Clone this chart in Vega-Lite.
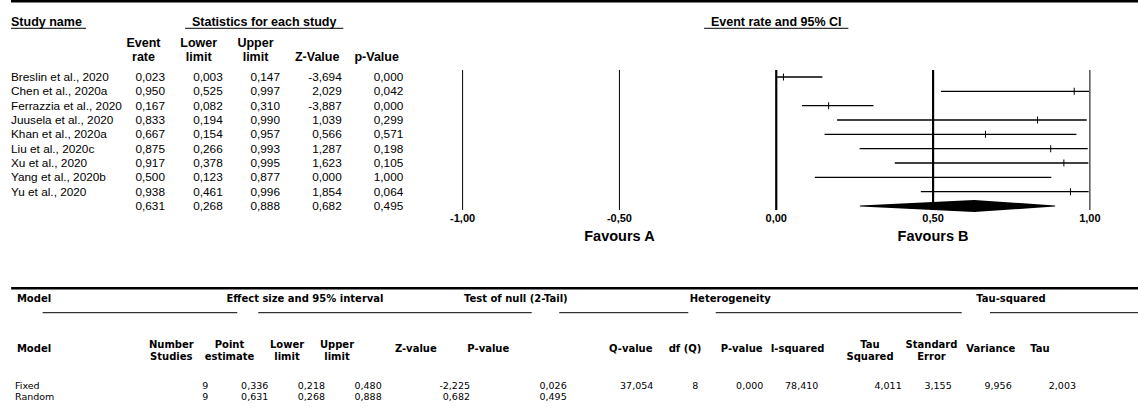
{
  "$schema": "https://vega.github.io/schema/vega-lite/v6.json",
  "width": 1138,
  "height": 409,
  "autosize": {"type": "none"},
  "padding": 0,
  "background": "white",
  "config": {
    "view": {"stroke": null},
    "locale": {"number": {"decimal": ",", "thousands": ".", "grouping": [3], "currency": ["", ""], "minus": "-"}},
    "text": {"color": "black"},
    "rule": {"color": "black"}
  },
  "datasets": {
    "studies": [
      {"study": "Breslin et al., 2020", "rate": 0.023, "lower": 0.003, "upper": 0.147, "z": -3.694, "p": 0.000},
      {"study": "Chen  et al., 2020a", "rate": 0.950, "lower": 0.525, "upper": 0.997, "z": 2.029, "p": 0.042},
      {"study": "Ferrazzia et al., 2020", "rate": 0.167, "lower": 0.082, "upper": 0.310, "z": -3.887, "p": 0.000},
      {"study": "Juusela et al., 2020", "rate": 0.833, "lower": 0.194, "upper": 0.990, "z": 1.039, "p": 0.299},
      {"study": "Khan et al., 2020a", "rate": 0.667, "lower": 0.154, "upper": 0.957, "z": 0.566, "p": 0.571},
      {"study": "Liu et al., 2020c", "rate": 0.875, "lower": 0.266, "upper": 0.993, "z": 1.287, "p": 0.198},
      {"study": "Xu et al., 2020", "rate": 0.917, "lower": 0.378, "upper": 0.995, "z": 1.623, "p": 0.105},
      {"study": "Yang et al., 2020b", "rate": 0.500, "lower": 0.123, "upper": 0.877, "z": 0.000, "p": 1.000},
      {"study": "Yu et al., 2020", "rate": 0.938, "lower": 0.461, "upper": 0.996, "z": 1.854, "p": 0.064},
      {"study": "", "rate": 0.631, "lower": 0.268, "upper": 0.888, "z": 0.682, "p": 0.495}
    ],
    "models": [
      {"model": "Fixed", "n": 9, "est": 0.336, "lower": 0.218, "upper": 0.480, "z": -2.225, "p": 0.026, "q": 37.054, "df": 8, "pq": 0.000, "i2": 78.410, "tau2": 4.011, "se": 3.155, "var": 9.956, "tau": 2.003},
      {"model": "Random", "n": 9, "est": 0.631, "lower": 0.268, "upper": 0.888, "z": 0.682, "p": 0.495, "q": null, "df": null, "pq": null, "i2": null, "tau2": null, "se": null, "var": null, "tau": null}
    ],
    "topHeads": [
      {"h": ["Event", "rate"]},
      {"h": ["Lower", "limit"]},
      {"h": ["Upper", "limit"]},
      {"h": ["", "Z-Value"]},
      {"h": ["", "p-Value"]}
    ],
    "groups": [
      {"g": "Model"},
      {"g": "Effect size and 95% interval"},
      {"g": "Test of null (2-Tail)"},
      {"g": "Heterogeneity"},
      {"g": "Tau-squared"}
    ],
    "bottomHeads": [
      {"h": ["Model"]},
      {"h": ["Number", "Studies"]},
      {"h": ["Point", "estimate"]},
      {"h": ["Lower", "limit"]},
      {"h": ["Upper", "limit"]},
      {"h": ["Z-value"]},
      {"h": ["P-value"]},
      {"h": ["Q-value"]},
      {"h": ["df (Q)"]},
      {"h": ["P-value"]},
      {"h": ["I-squared"]},
      {"h": ["Tau", "Squared"]},
      {"h": ["Standard", "Error"]},
      {"h": ["Variance"]},
      {"h": ["Tau"]}
    ],
    "ticks": [{"v": -1}, {"v": -0.5}, {"v": 0}, {"v": 0.5}, {"v": 1}]
  },
  "resolve": {"scale": {"x": "independent", "y": "independent", "size": "independent"}},
  "layer": [
    {
      "data": {"values": [{}]},
      "mark": {"type": "rule", "strokeWidth": 2.5},
      "encoding": {
        "x": {"datum": 0, "type": "quantitative", "axis": null, "scale": {"domain": [0, 1, 2, 3, 4, 5], "range": [11, 165, 222.7, 280, 341.7, 403.3], "zero": false, "nice": false}},
        "x2": {"datum": 17},
        "y": {"datum": -4.288, "type": "quantitative", "axis": null, "scale": {"domain": [1, 10], "range": [77, 206], "zero": false, "nice": false}}
      }
    },
    {
      "data": {"values": [{"t": "Study name"}]},
      "mark": {"type": "text", "align": "left", "baseline": "middle", "font": "Liberation Sans", "fontSize": 12.5, "fontWeight": "bold"},
      "encoding": {
        "text": {"field": "t", "type": "nominal"},
        "x": {"datum": 0, "type": "quantitative", "axis": null, "scale": {"domain": [0, 1, 2, 3, 4, 5], "range": [11, 165, 222.7, 280, 341.7, 403.3], "zero": false, "nice": false}},
        "y": {"datum": -2.858, "type": "quantitative", "axis": null, "scale": {"domain": [1, 10], "range": [77, 206], "zero": false, "nice": false}}
      }
    },
    {
      "data": {"values": [{}]},
      "mark": {"type": "rule", "strokeWidth": 1},
      "encoding": {
        "x": {"datum": 0, "type": "quantitative", "axis": null, "scale": {"domain": [0, 1, 2, 3, 4, 5], "range": [11, 165, 222.7, 280, 341.7, 403.3], "zero": false, "nice": false}},
        "x2": {"datum": 0.487},
        "y": {"datum": -2.398, "type": "quantitative", "axis": null, "scale": {"domain": [1, 10], "range": [77, 206], "zero": false, "nice": false}}
      }
    },
    {
      "data": {"values": [{"t": "Statistics for each study"}]},
      "mark": {"type": "text", "align": "center", "baseline": "middle", "font": "Liberation Sans", "fontSize": 12.5, "fontWeight": "bold"},
      "encoding": {
        "text": {"field": "t", "type": "nominal"},
        "x": {"datum": 2.724, "type": "quantitative", "axis": null, "scale": {"domain": [0, 1, 2, 3, 4, 5], "range": [11, 165, 222.7, 280, 341.7, 403.3], "zero": false, "nice": false}},
        "y": {"datum": -2.858, "type": "quantitative", "axis": null, "scale": {"domain": [1, 10], "range": [77, 206], "zero": false, "nice": false}}
      }
    },
    {
      "data": {"values": [{}]},
      "mark": {"type": "rule", "strokeWidth": 1},
      "encoding": {
        "x": {"datum": 1.347, "type": "quantitative", "axis": null, "scale": {"domain": [0, 1, 2, 3, 4, 5], "range": [11, 165, 222.7, 280, 341.7, 403.3], "zero": false, "nice": false}},
        "x2": {"datum": 4.026},
        "y": {"datum": -2.398, "type": "quantitative", "axis": null, "scale": {"domain": [1, 10], "range": [77, 206], "zero": false, "nice": false}}
      }
    },
    {
      "data": {"name": "topHeads"},
      "transform": [{"window": [{"op": "row_number", "as": "k"}]}],
      "mark": {"type": "text", "align": "center", "baseline": "middle", "lineHeight": 14, "font": "Liberation Sans", "fontSize": 12.5, "fontWeight": "bold"},
      "encoding": {
        "text": {"field": "h", "type": "nominal"},
        "x": {"field": "k", "type": "quantitative", "axis": null, "scale": {"domain": [1, 2, 3, 4, 5], "range": [143.5, 198.7, 255.5, 317.2, 376.7], "zero": false, "nice": false}},
        "y": {"datum": -1.372, "type": "quantitative", "axis": null, "scale": {"domain": [1, 10], "range": [77, 206], "zero": false, "nice": false}}
      }
    },
    {
      "data": {"name": "studies"},
      "transform": [
        {"window": [{"op": "row_number", "as": "r"}]},
        {"filter": "datum.study !== ''"}
      ],
      "mark": {"type": "text", "align": "left", "baseline": "middle", "font": "Liberation Sans", "fontSize": 11.8},
      "encoding": {
        "text": {"field": "study", "type": "nominal"},
        "x": {"datum": 0, "type": "quantitative", "axis": null, "scale": {"domain": [0, 1, 2, 3, 4, 5], "range": [11, 165, 222.7, 280, 341.7, 403.3], "zero": false, "nice": false}},
        "y": {"field": "r", "type": "quantitative", "axis": null, "scale": {"domain": [1, 10], "range": [77, 206], "zero": false, "nice": false}}
      }
    },
    {
      "data": {"name": "studies"},
      "transform": [
        {"window": [{"op": "row_number", "as": "r"}]},
        {"fold": ["rate", "lower", "upper", "z", "p"], "as": ["key", "value"]},
        {"window": [{"op": "row_number", "as": "k"}], "groupby": ["r"]}
      ],
      "mark": {"type": "text", "align": "right", "baseline": "middle", "font": "Liberation Sans", "fontSize": 11.8},
      "encoding": {
        "text": {"field": "value", "type": "quantitative", "format": ".3f"},
        "x": {"field": "k", "type": "quantitative", "axis": null, "scale": {"domain": [0, 1, 2, 3, 4, 5], "range": [11, 165, 222.7, 280, 341.7, 403.3], "zero": false, "nice": false}},
        "y": {"field": "r", "type": "quantitative", "axis": null, "scale": {"domain": [1, 10], "range": [77, 206], "zero": false, "nice": false}}
      }
    },
    {
      "data": {"values": [{"t": "Event rate and 95% CI"}]},
      "mark": {"type": "text", "align": "center", "baseline": "middle", "font": "Liberation Sans", "fontSize": 12.5, "fontWeight": "bold"},
      "encoding": {
        "text": {"field": "t", "type": "nominal"},
        "x": {"datum": 0, "type": "quantitative", "axis": null, "scale": {"domain": [-1, 1], "range": [462.6, 1089.9], "zero": false, "nice": false}},
        "y": {"datum": -2.858, "type": "quantitative", "axis": null, "scale": {"domain": [1, 10], "range": [77, 206], "zero": false, "nice": false}}
      }
    },
    {
      "data": {"values": [{}]},
      "mark": {"type": "rule", "strokeWidth": 1},
      "encoding": {
        "x": {"datum": -0.23, "type": "quantitative", "axis": null, "scale": {"domain": [-1, 1], "range": [462.6, 1089.9], "zero": false, "nice": false}},
        "x2": {"datum": 0.23},
        "y": {"datum": -2.398, "type": "quantitative", "axis": null, "scale": {"domain": [1, 10], "range": [77, 206], "zero": false, "nice": false}}
      }
    },
    {
      "data": {"name": "ticks"},
      "mark": {"type": "rule"},
      "encoding": {
        "x": {"field": "v", "type": "quantitative", "axis": null, "scale": {"domain": [-1, 1], "range": [462.6, 1089.9], "zero": false, "nice": false}},
        "y": {"datum": 0.512, "type": "quantitative", "axis": null, "scale": {"domain": [1, 10], "range": [77, 206], "zero": false, "nice": false}},
        "y2": {"datum": 10.279},
        "strokeWidth": {"condition": {"test": "datum.v === 0 || datum.v === 0.5", "value": 2.2}, "value": 1}
      }
    },
    {
      "data": {"name": "ticks"},
      "mark": {"type": "text", "align": "center", "baseline": "middle", "font": "Liberation Sans", "fontSize": 11, "fontWeight": "bold"},
      "encoding": {
        "text": {"field": "v", "type": "quantitative", "format": ".2f"},
        "x": {"field": "v", "type": "quantitative", "axis": null, "scale": {"domain": [-1, 1], "range": [462.6, 1089.9], "zero": false, "nice": false}},
        "y": {"datum": 10.928, "type": "quantitative", "axis": null, "scale": {"domain": [1, 10], "range": [77, 206], "zero": false, "nice": false}}
      }
    },
    {
      "data": {"values": [{"t": "Favours A"}]},
      "mark": {"type": "text", "align": "center", "baseline": "middle", "font": "Liberation Sans", "fontSize": 14.5, "fontWeight": "bold"},
      "encoding": {
        "text": {"field": "t", "type": "nominal"},
        "x": {"datum": -0.5, "type": "quantitative", "axis": null, "scale": {"domain": [-1, 1], "range": [462.6, 1089.9], "zero": false, "nice": false}},
        "y": {"datum": 12.184, "type": "quantitative", "axis": null, "scale": {"domain": [1, 10], "range": [77, 206], "zero": false, "nice": false}}
      }
    },
    {
      "data": {"values": [{"t": "Favours B"}]},
      "mark": {"type": "text", "align": "center", "baseline": "middle", "font": "Liberation Sans", "fontSize": 14.5, "fontWeight": "bold"},
      "encoding": {
        "text": {"field": "t", "type": "nominal"},
        "x": {"datum": 0.5, "type": "quantitative", "axis": null, "scale": {"domain": [-1, 1], "range": [462.6, 1089.9], "zero": false, "nice": false}},
        "y": {"datum": 12.184, "type": "quantitative", "axis": null, "scale": {"domain": [1, 10], "range": [77, 206], "zero": false, "nice": false}}
      }
    },
    {
      "data": {"name": "studies"},
      "transform": [
        {"window": [{"op": "row_number", "as": "r"}]},
        {"filter": "datum.study !== ''"}
      ],
      "mark": {"type": "rule", "strokeWidth": 1.4},
      "encoding": {
        "x": {"field": "lower", "type": "quantitative", "axis": null, "scale": {"domain": [-1, 1], "range": [462.6, 1089.9], "zero": false, "nice": false}},
        "x2": {"field": "upper"},
        "y": {"field": "r", "type": "quantitative", "axis": null, "scale": {"domain": [1, 10], "range": [77, 206], "zero": false, "nice": false}}
      }
    },
    {
      "data": {"name": "studies"},
      "transform": [
        {"window": [{"op": "row_number", "as": "r"}]},
        {"filter": "datum.study !== ''"}
      ],
      "mark": {"type": "tick", "orient": "vertical", "size": 7, "thickness": 1, "color": "black", "opacity": 1},
      "encoding": {
        "x": {"field": "rate", "type": "quantitative", "axis": null, "scale": {"domain": [-1, 1], "range": [462.6, 1089.9], "zero": false, "nice": false}},
        "y": {"field": "r", "type": "quantitative", "axis": null, "scale": {"domain": [1, 10], "range": [77, 206], "zero": false, "nice": false}}
      }
    },
    {
      "data": {"name": "studies"},
      "transform": [
        {"window": [{"op": "row_number", "as": "r"}]},
        {"filter": "datum.study === ''"},
        {"fold": ["lower", "rate", "upper"], "as": ["key", "value"]}
      ],
      "mark": {"type": "trail", "color": "black", "opacity": 1},
      "encoding": {
        "x": {"field": "value", "type": "quantitative", "axis": null, "scale": {"domain": [-1, 1], "range": [462.6, 1089.9], "zero": false, "nice": false}},
        "y": {"field": "r", "type": "quantitative", "axis": null, "scale": {"domain": [1, 10], "range": [77, 206], "zero": false, "nice": false}},
        "size": {"condition": {"test": "datum.key === 'rate'", "value": 12}, "value": 1}
      }
    },
    {
      "data": {"values": [{}]},
      "mark": {"type": "rule", "strokeWidth": 2.5},
      "encoding": {
        "x": {"datum": -0.02, "type": "quantitative", "axis": null, "scale": {"domain": [0, 1, 2, 3, 4, 5, 6, 7, 8, 9, 10, 11, 12, 13, 14], "range": [15, 208.3, 268.3, 325, 381.7, 470, 566.7, 653.3, 698.3, 763.3, 818.3, 901.7, 951.7, 1011.7, 1076], "zero": false, "nice": false}},
        "x2": {"datum": 15},
        "y": {"datum": -8.305, "type": "quantitative", "axis": null, "scale": {"domain": [1, 2], "range": [386, 396.5], "zero": false, "nice": false}}
      }
    },
    {
      "data": {"name": "groups"},
      "transform": [{"window": [{"op": "row_number", "as": "k"}]}],
      "mark": {"type": "text", "align": "center", "baseline": "middle", "font": "DejaVu Sans", "fontSize": 10, "fontWeight": "bold"},
      "encoding": {
        "text": {"field": "g", "type": "nominal"},
        "x": {"field": "k", "type": "quantitative", "axis": null, "scale": {"domain": [1, 2, 3, 4, 5], "range": [34, 305, 515.8, 730.3, 1011], "zero": false, "nice": false}},
        "y": {"datum": -7.257, "type": "quantitative", "axis": null, "scale": {"domain": [1, 2], "range": [386, 396.5], "zero": false, "nice": false}}
      }
    },
    {
      "data": {"values": [{}]},
      "mark": {"type": "rule", "strokeWidth": 1},
      "encoding": {
        "x": {"datum": 0.143, "type": "quantitative", "axis": null, "scale": {"domain": [0, 1, 2, 3, 4, 5, 6, 7, 8, 9, 10, 11, 12, 13, 14], "range": [15, 208.3, 268.3, 325, 381.7, 470, 566.7, 653.3, 698.3, 763.3, 818.3, 901.7, 951.7, 1011.7, 1076], "zero": false, "nice": false}},
        "x2": {"datum": 1.483},
        "y": {"datum": -5.981, "type": "quantitative", "axis": null, "scale": {"domain": [1, 2], "range": [386, 396.5], "zero": false, "nice": false}}
      }
    },
    {
      "data": {"values": [{}]},
      "mark": {"type": "rule", "strokeWidth": 1},
      "encoding": {
        "x": {"datum": 1.833, "type": "quantitative", "axis": null, "scale": {"domain": [0, 1, 2, 3, 4, 5, 6, 7, 8, 9, 10, 11, 12, 13, 14], "range": [15, 208.3, 268.3, 325, 381.7, 470, 566.7, 653.3, 698.3, 763.3, 818.3, 901.7, 951.7, 1011.7, 1076], "zero": false, "nice": false}},
        "x2": {"datum": 5.638},
        "y": {"datum": -5.981, "type": "quantitative", "axis": null, "scale": {"domain": [1, 2], "range": [386, 396.5], "zero": false, "nice": false}}
      }
    },
    {
      "data": {"values": [{}]},
      "mark": {"type": "rule", "strokeWidth": 1},
      "encoding": {
        "x": {"datum": 5.923, "type": "quantitative", "axis": null, "scale": {"domain": [0, 1, 2, 3, 4, 5, 6, 7, 8, 9, 10, 11, 12, 13, 14], "range": [15, 208.3, 268.3, 325, 381.7, 470, 566.7, 653.3, 698.3, 763.3, 818.3, 901.7, 951.7, 1011.7, 1076], "zero": false, "nice": false}},
        "x2": {"datum": 7.778},
        "y": {"datum": -5.981, "type": "quantitative", "axis": null, "scale": {"domain": [1, 2], "range": [386, 396.5], "zero": false, "nice": false}}
      }
    },
    {
      "data": {"values": [{}]},
      "mark": {"type": "rule", "strokeWidth": 1},
      "encoding": {
        "x": {"datum": 8.268, "type": "quantitative", "axis": null, "scale": {"domain": [0, 1, 2, 3, 4, 5, 6, 7, 8, 9, 10, 11, 12, 13, 14], "range": [15, 208.3, 268.3, 325, 381.7, 470, 566.7, 653.3, 698.3, 763.3, 818.3, 901.7, 951.7, 1011.7, 1076], "zero": false, "nice": false}},
        "x2": {"datum": 12.167},
        "y": {"datum": -5.981, "type": "quantitative", "axis": null, "scale": {"domain": [1, 2], "range": [386, 396.5], "zero": false, "nice": false}}
      }
    },
    {
      "data": {"values": [{}]},
      "mark": {"type": "rule", "strokeWidth": 1},
      "encoding": {
        "x": {"datum": 12.638, "type": "quantitative", "axis": null, "scale": {"domain": [0, 1, 2, 3, 4, 5, 6, 7, 8, 9, 10, 11, 12, 13, 14], "range": [15, 208.3, 268.3, 325, 381.7, 470, 566.7, 653.3, 698.3, 763.3, 818.3, 901.7, 951.7, 1011.7, 1076], "zero": false, "nice": false}},
        "x2": {"datum": 15},
        "y": {"datum": -5.981, "type": "quantitative", "axis": null, "scale": {"domain": [1, 2], "range": [386, 396.5], "zero": false, "nice": false}}
      }
    },
    {
      "data": {"name": "bottomHeads"},
      "transform": [
        {"window": [{"op": "row_number", "as": "k"}]},
        {"filter": "length(datum.h) === 2"}
      ],
      "mark": {"type": "text", "align": "center", "baseline": "middle", "lineHeight": 11.7, "font": "DejaVu Sans", "fontSize": 10, "fontWeight": "bold"},
      "encoding": {
        "text": {"field": "h", "type": "nominal"},
        "x": {"field": "k", "type": "quantitative", "axis": null, "scale": {"domain": [1, 2, 3, 4, 5, 6, 7, 8, 9, 10, 11, 12, 13, 14, 15], "range": [34, 171.3, 229.5, 287, 337, 415.8, 488.3, 630.8, 685, 741.7, 797.5, 870, 931.5, 990.8, 1040], "zero": false, "nice": false}},
        "y": {"datum": -2.905, "type": "quantitative", "axis": null, "scale": {"domain": [1, 2], "range": [386, 396.5], "zero": false, "nice": false}}
      }
    },
    {
      "data": {"name": "bottomHeads"},
      "transform": [
        {"window": [{"op": "row_number", "as": "k"}]},
        {"filter": "length(datum.h) === 1"}
      ],
      "mark": {"type": "text", "align": "center", "baseline": "middle", "font": "DejaVu Sans", "fontSize": 10, "fontWeight": "bold"},
      "encoding": {
        "text": {"field": "h", "type": "nominal"},
        "x": {"field": "k", "type": "quantitative", "axis": null, "scale": {"domain": [1, 2, 3, 4, 5, 6, 7, 8, 9, 10, 11, 12, 13, 14, 15], "range": [34, 171.3, 229.5, 287, 337, 415.8, 488.3, 630.8, 685, 741.7, 797.5, 870, 931.5, 990.8, 1040], "zero": false, "nice": false}},
        "y": {"datum": -2.495, "type": "quantitative", "axis": null, "scale": {"domain": [1, 2], "range": [386, 396.5], "zero": false, "nice": false}}
      }
    },
    {
      "data": {"name": "models"},
      "transform": [{"window": [{"op": "row_number", "as": "r"}]}],
      "mark": {"type": "text", "align": "left", "baseline": "middle", "font": "DejaVu Sans", "fontSize": 9.5},
      "encoding": {
        "text": {"field": "model", "type": "nominal"},
        "x": {"datum": 0, "type": "quantitative", "axis": null, "scale": {"domain": [0, 1, 2, 3, 4, 5, 6, 7, 8, 9, 10, 11, 12, 13, 14], "range": [15, 208.3, 268.3, 325, 381.7, 470, 566.7, 653.3, 698.3, 763.3, 818.3, 901.7, 951.7, 1011.7, 1076], "zero": false, "nice": false}},
        "y": {"field": "r", "type": "quantitative", "axis": null, "scale": {"domain": [1, 2], "range": [386, 396.5], "zero": false, "nice": false}}
      }
    },
    {
      "data": {"name": "models"},
      "transform": [
        {"window": [{"op": "row_number", "as": "r"}]},
        {"fold": ["n", "est", "lower", "upper", "z", "p", "q", "df", "pq", "i2", "tau2", "se", "var", "tau"], "as": ["key", "value"]},
        {"window": [{"op": "row_number", "as": "k"}], "groupby": ["r"]},
        {"filter": "isValid(datum.value) && datum.key !== 'n' && datum.key !== 'df'"}
      ],
      "mark": {"type": "text", "align": "right", "baseline": "middle", "font": "DejaVu Sans", "fontSize": 9.5},
      "encoding": {
        "text": {"field": "value", "type": "quantitative", "format": ".3f"},
        "x": {"field": "k", "type": "quantitative", "axis": null, "scale": {"domain": [0, 1, 2, 3, 4, 5, 6, 7, 8, 9, 10, 11, 12, 13, 14], "range": [15, 208.3, 268.3, 325, 381.7, 470, 566.7, 653.3, 698.3, 763.3, 818.3, 901.7, 951.7, 1011.7, 1076], "zero": false, "nice": false}},
        "y": {"field": "r", "type": "quantitative", "axis": null, "scale": {"domain": [1, 2], "range": [386, 396.5], "zero": false, "nice": false}}
      }
    },
    {
      "data": {"name": "models"},
      "transform": [
        {"window": [{"op": "row_number", "as": "r"}]},
        {"fold": ["n", "est", "lower", "upper", "z", "p", "q", "df", "pq", "i2", "tau2", "se", "var", "tau"], "as": ["key", "value"]},
        {"window": [{"op": "row_number", "as": "k"}], "groupby": ["r"]},
        {"filter": "isValid(datum.value) && (datum.key === 'n' || datum.key === 'df')"}
      ],
      "mark": {"type": "text", "align": "right", "baseline": "middle", "font": "DejaVu Sans", "fontSize": 9.5},
      "encoding": {
        "text": {"field": "value", "type": "quantitative", "format": "d"},
        "x": {"field": "k", "type": "quantitative", "axis": null, "scale": {"domain": [0, 1, 2, 3, 4, 5, 6, 7, 8, 9, 10, 11, 12, 13, 14], "range": [15, 208.3, 268.3, 325, 381.7, 470, 566.7, 653.3, 698.3, 763.3, 818.3, 901.7, 951.7, 1011.7, 1076], "zero": false, "nice": false}},
        "y": {"field": "r", "type": "quantitative", "axis": null, "scale": {"domain": [1, 2], "range": [386, 396.5], "zero": false, "nice": false}}
      }
    }
  ]
}
